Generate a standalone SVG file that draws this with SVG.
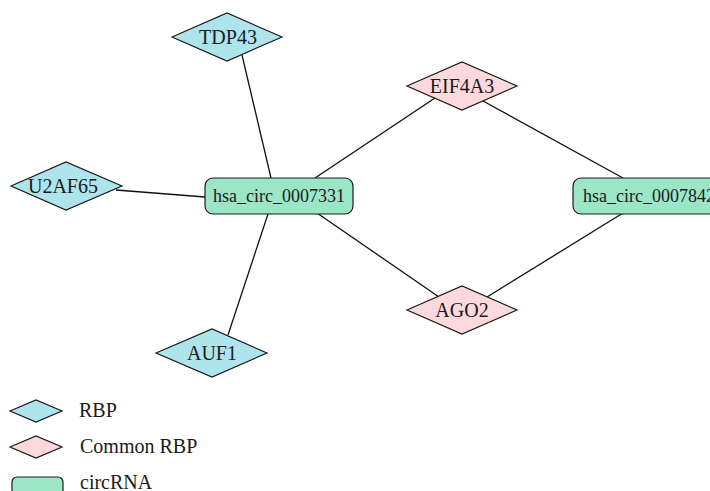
<svg xmlns="http://www.w3.org/2000/svg" width="710" height="491" viewBox="0 0 710 491">
<style>
.rbp{fill:#aee4ec;stroke:#1a1a1a;stroke-width:1.2}
.com{fill:#fdd9dd;stroke:#1a1a1a;stroke-width:1.2}
.circ{fill:#9ce6c8;stroke:#1a1a1a;stroke-width:1.2}
.lbl{font-family:"Liberation Serif","DejaVu Serif",serif;font-size:20px;fill:#1a1a1a;text-anchor:middle}
.clbl{font-family:"Liberation Serif","DejaVu Serif",serif;font-size:18px;fill:#1a1a1a}
.leg{font-family:"Liberation Serif","DejaVu Serif",serif;font-size:20px;fill:#1a1a1a}
.edge{stroke:#111;stroke-width:1.3;fill:none}
</style>
<rect width="710" height="491" fill="#ffffff"/>
<g id="edges">
<line class="edge" x1="242" y1="55" x2="271" y2="178"/>
<line class="edge" x1="116" y1="190" x2="205" y2="197"/>
<line class="edge" x1="228" y1="335" x2="268" y2="214"/>
<line class="edge" x1="315" y1="178" x2="435" y2="98"/>
<line class="edge" x1="483" y1="101" x2="623" y2="178"/>
<line class="edge" x1="317" y1="213" x2="439" y2="297"/>
<line class="edge" x1="487" y1="297" x2="623" y2="213"/>
</g>
<g id="TDP43">
<polygon class="rbp" points="172,37 227,13 282,37 227,61"/>
<text class="lbl" x="228" y="44">TDP43</text>
</g>
<g id="U2AF65">
<polygon class="rbp" points="11,186 66,162 122,186 66,210"/>
<text class="lbl" x="63" y="193">U2AF65</text>
</g>
<g id="AUF1">
<polygon class="rbp" points="156,353 212,329 267,353 212,377"/>
<text class="lbl" x="212" y="360">AUF1</text>
</g>
<g id="EIF4A3">
<polygon class="com" points="407,86 462,62 517,86 462,110"/>
<text class="lbl" x="462" y="93">EIF4A3</text>
</g>
<g id="AGO2">
<polygon class="com" points="407,310 462,286 517,310 462,334"/>
<text class="lbl" x="462" y="317">AGO2</text>
</g>
<g id="hsa_circ_0007331">
<rect class="circ" x="205" y="178" width="148" height="36" rx="8"/>
<text class="clbl" x="279" y="202" text-anchor="middle">hsa_circ_0007331</text>
</g>
<g id="hsa_circ_0007842">
<rect class="circ" x="573" y="178" width="150" height="36" rx="8"/>
<text class="clbl" x="583" y="202">hsa_circ_0007842</text>
</g>
<g id="legend">
<polygon class="rbp" points="10,411 36,400 62,411 36,422"/>
<text class="leg" x="79" y="417">RBP</text>
<polygon class="com" points="10,447 36,436 62,447 36,458"/>
<text class="leg" x="80" y="453">Common RBP</text>
<rect class="circ" x="12" y="477" width="51" height="24" rx="5"/>
<text class="leg" x="80" y="489">circRNA</text>
</g>
</svg>
